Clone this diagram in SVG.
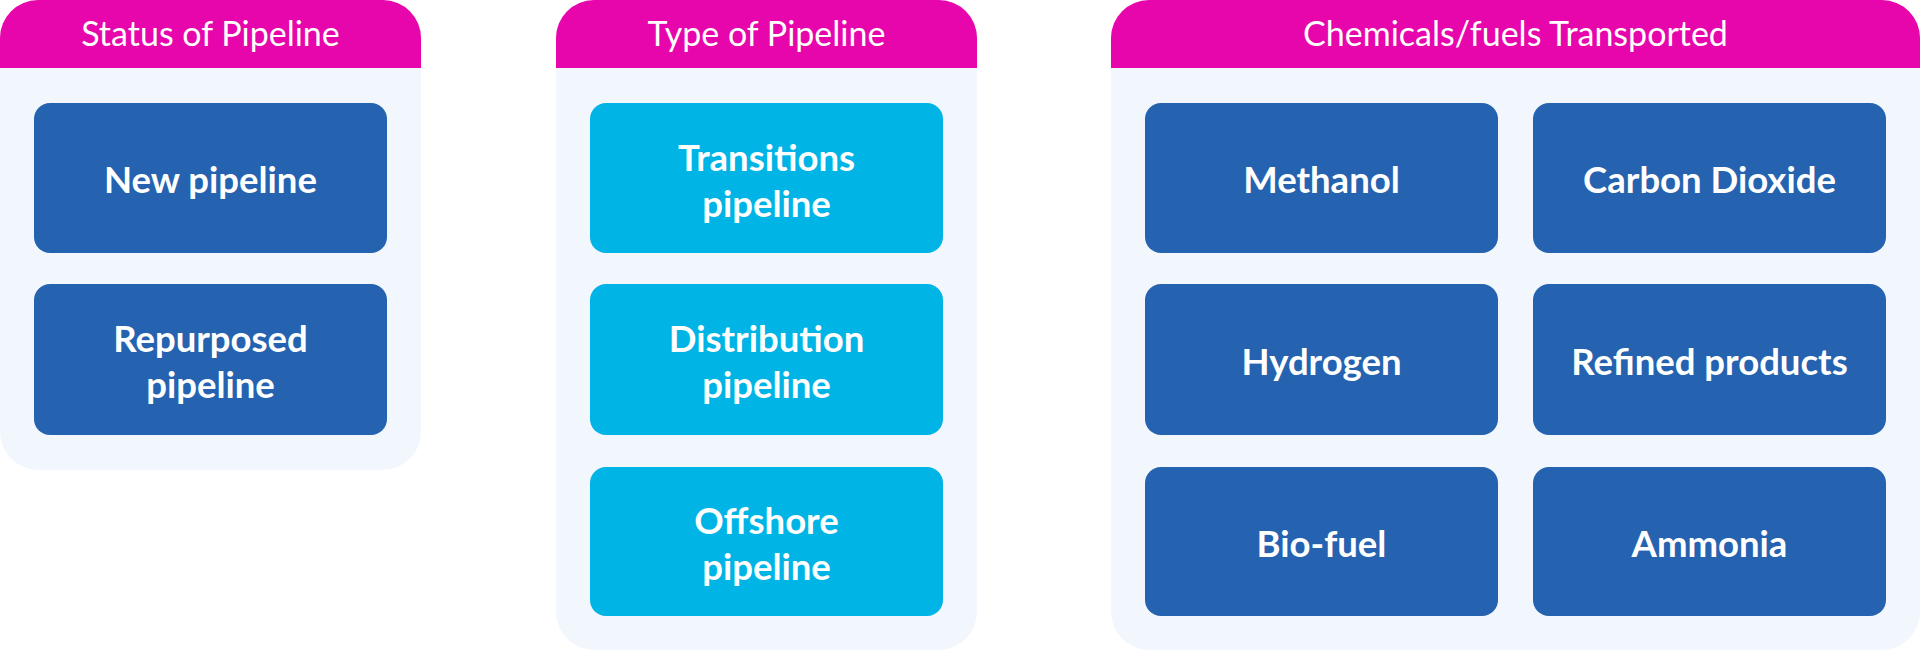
<svg xmlns="http://www.w3.org/2000/svg" width="1920" height="651" viewBox="0 0 1920 651">
<style>
.panel{fill:#F2F7FE}
.head{fill:#E705AC}
.dark{fill:#2563B0}
.cyan{fill:#00B4E6}
.ht{font-family:Lato,"Liberation Sans",sans-serif;font-size:34px;fill:#fff;text-anchor:middle}
.nt{font-family:Lato,"Liberation Sans",sans-serif;font-size:36.5px;font-weight:700;fill:#fff;text-anchor:middle}
</style>
<rect width="1920" height="651" fill="#fff"/>
<g id="panel-status">
<rect class="panel" x="0" y="0" width="421" height="470" rx="38"/>
<path class="head" d="M0,68 V38 A38,38 0 0 1 38,0 H383 A38,38 0 0 1 421,38 V68 Z"/>
<text class="ht" x="210.5" y="46">Status of Pipeline</text>
</g>
<g id="panel-type">
<rect class="panel" x="556" y="0" width="421" height="650" rx="38"/>
<path class="head" d="M556,68 V38 A38,38 0 0 1 594,0 H939 A38,38 0 0 1 977,38 V68 Z"/>
<text class="ht" x="766.5" y="46">Type of Pipeline</text>
</g>
<g id="panel-chemicals">
<rect class="panel" x="1111" y="0" width="809" height="650" rx="38"/>
<path class="head" d="M1111,68 V38 A38,38 0 0 1 1149,0 H1882 A38,38 0 0 1 1920,38 V68 Z"/>
<text class="ht" x="1515.5" y="46">Chemicals/fuels Transported</text>
</g>
<g id="node-new">
<rect class="dark" x="34" y="103" width="353" height="150" rx="16"/>
<text class="nt" x="210.5" y="193">New pipeline</text>
</g>
<g id="node-repurposed">
<rect class="dark" x="34" y="284" width="353" height="151" rx="16"/>
<text class="nt" x="210.5" y="352">Repurposed</text>
<text class="nt" x="210.5" y="398">pipeline</text>
</g>
<g id="node-transitions">
<rect class="cyan" x="590" y="103" width="353" height="150" rx="16"/>
<text class="nt" x="766.5" y="171">Transitions</text>
<text class="nt" x="766.5" y="217">pipeline</text>
</g>
<g id="node-distribution">
<rect class="cyan" x="590" y="284" width="353" height="151" rx="16"/>
<text class="nt" x="766.5" y="352">Distribution</text>
<text class="nt" x="766.5" y="398">pipeline</text>
</g>
<g id="node-offshore">
<rect class="cyan" x="590" y="467" width="353" height="149" rx="16"/>
<text class="nt" x="766.5" y="534">Offshore</text>
<text class="nt" x="766.5" y="580">pipeline</text>
</g>
<g id="node-methanol">
<rect class="dark" x="1145" y="103" width="353" height="150" rx="16"/>
<text class="nt" x="1321.5" y="193">Methanol</text>
</g>
<g id="node-co2">
<rect class="dark" x="1533" y="103" width="353" height="150" rx="16"/>
<text class="nt" x="1709.5" y="193">Carbon Dioxide</text>
</g>
<g id="node-hydrogen">
<rect class="dark" x="1145" y="284" width="353" height="151" rx="16"/>
<text class="nt" x="1321.5" y="375">Hydrogen</text>
</g>
<g id="node-refined">
<rect class="dark" x="1533" y="284" width="353" height="151" rx="16"/>
<text class="nt" x="1709.5" y="375">Refined products</text>
</g>
<g id="node-biofuel">
<rect class="dark" x="1145" y="467" width="353" height="149" rx="16"/>
<text class="nt" x="1321.5" y="557">Bio-fuel</text>
</g>
<g id="node-ammonia">
<rect class="dark" x="1533" y="467" width="353" height="149" rx="16"/>
<text class="nt" x="1709.5" y="557">Ammonia</text>
</g>
<g id="connectors"/>
</svg>
